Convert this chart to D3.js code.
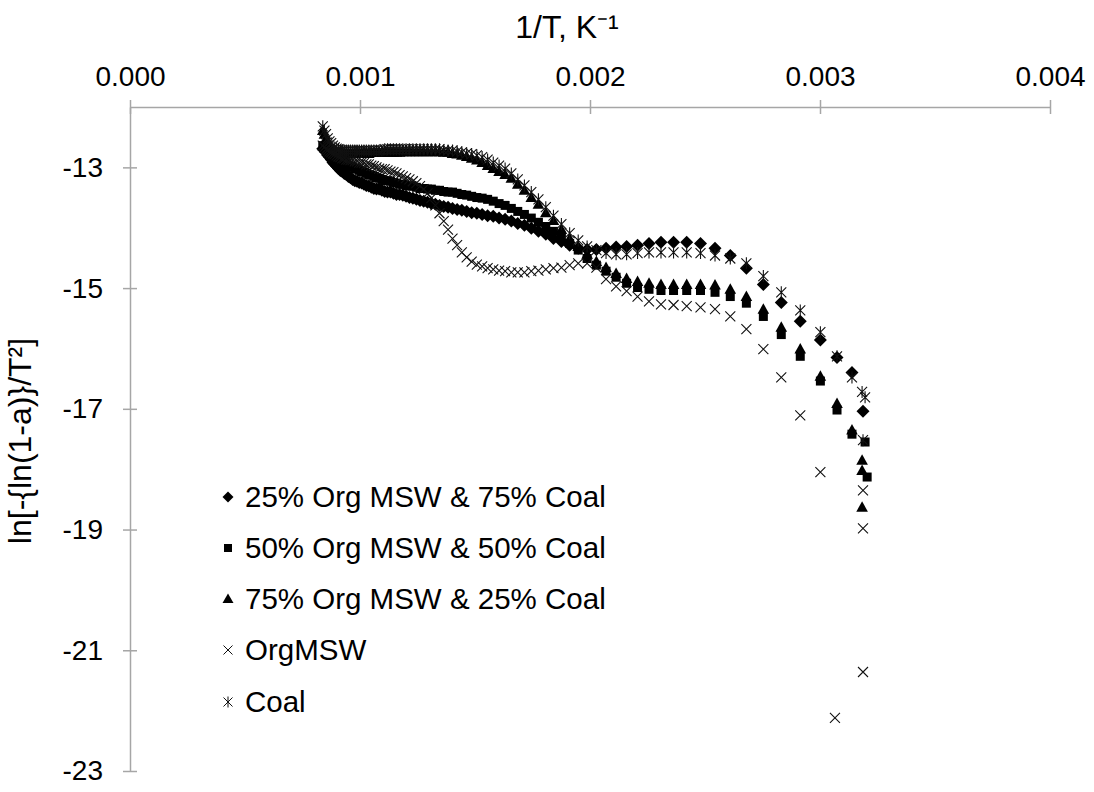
<!DOCTYPE html>
<html>
<head>
<meta charset="utf-8">
<script src="https://cdn.jsdelivr.net/npm/d3@7"></script>
<style>
  html, body { margin: 0; padding: 0; background: #fff; }
  svg { display: block; }
  text { font-family: "Liberation Sans", Arial, sans-serif; fill: #000; }
</style>
</head>
<body>
<svg id="chart" width="1094" height="792"></svg>
<script>
// ---------------- DATA ----------------
// Temperatures (°C) of the main sampling grid; x value = 1/T (K^-1)
const tempsC = [920,910,900,890,880,870,860,850,840,830,820,810,800,790,780,770,760,750,740,730,
  720,710,700,690,680,670,660,650,640,630,620,610,600,590,580,570,560,550,540,530,
  520,510,500,490,480,470,460,450,440,430,420,410,400,390,380,370,360,350,340,330,
  320,310,300,290,280,270,260,250,240,230,220,210,200,190,180,170,160,150,140,130,
  120,110,100,90,80,70,60];

const seriesNames = ["25% Org MSW & 75% Coal", "50% Org MSW & 50% Coal", "75% Org MSW & 25% Coal", "OrgMSW", "Coal"];

const blend25 = [-12.69,-12.72,-12.75,-12.80,-12.83,-12.87,-12.92,-12.95,-12.98,-13.02,
  -13.05,-13.07,-13.10,-13.12,-13.15,-13.17,-13.20,-13.22,-13.23,-13.25,
  -13.26,-13.28,-13.30,-13.31,-13.33,-13.35,-13.36,-13.36,-13.38,-13.40,
  -13.41,-13.41,-13.43,-13.45,-13.45,-13.46,-13.48,-13.50,-13.51,-13.53,
  -13.55,-13.56,-13.58,-13.60,-13.61,-13.63,-13.65,-13.66,-13.68,-13.70,
  -13.71,-13.73,-13.75,-13.76,-13.78,-13.80,-13.81,-13.84,-13.86,-13.89,
  -13.93,-13.96,-14.01,-14.06,-14.11,-14.18,-14.23,-14.29,-14.34,-14.36,
  -14.36,-14.34,-14.32,-14.31,-14.29,-14.26,-14.24,-14.24,-14.24,-14.26,
  -14.34,-14.46,-14.67,-14.94,-15.24,-15.55,-15.86];
const blend25Tail = [[0.003074,-16.15],[0.003139,-16.40],[0.003187,-17.04]];

const blend50 = [-12.64,-12.65,-12.67,-12.69,-12.72,-12.74,-12.77,-12.78,-12.82,-12.83,
  -12.87,-12.88,-12.92,-12.93,-12.97,-12.98,-13.00,-13.02,-13.03,-13.05,
  -13.07,-13.08,-13.10,-13.12,-13.13,-13.15,-13.17,-13.18,-13.20,-13.22,
  -13.22,-13.23,-13.25,-13.26,-13.28,-13.28,-13.30,-13.31,-13.31,-13.33,
  -13.35,-13.35,-13.36,-13.36,-13.38,-13.38,-13.40,-13.41,-13.41,-13.43,
  -13.45,-13.46,-13.48,-13.50,-13.51,-13.53,-13.56,-13.60,-13.63,-13.68,
  -13.73,-13.78,-13.84,-13.91,-13.98,-14.06,-14.14,-14.26,-14.37,-14.51,
  -14.62,-14.72,-14.82,-14.92,-14.99,-15.02,-15.04,-15.04,-15.04,-15.04,
  -15.07,-15.14,-15.25,-15.47,-15.77,-16.13,-16.54];
const blend50Tail = [[0.003074,-17.02],[0.003139,-17.42],[0.003196,-17.55],[0.003205,-18.13]];

const blend75 = [-12.39,-12.45,-12.52,-12.59,-12.64,-12.67,-12.70,-12.72,-12.74,-12.75,
  -12.75,-12.75,-12.77,-12.77,-12.77,-12.77,-12.77,-12.77,-12.77,-12.77,
  -12.77,-12.77,-12.77,-12.77,-12.75,-12.75,-12.75,-12.75,-12.75,-12.75,
  -12.75,-12.75,-12.75,-12.75,-12.75,-12.74,-12.74,-12.74,-12.74,-12.74,
  -12.74,-12.74,-12.74,-12.74,-12.74,-12.74,-12.75,-12.75,-12.77,-12.78,
  -12.80,-12.82,-12.85,-12.88,-12.92,-12.97,-13.02,-13.07,-13.12,-13.18,
  -13.28,-13.38,-13.50,-13.61,-13.75,-13.88,-14.03,-14.18,-14.31,-14.44,
  -14.56,-14.66,-14.76,-14.84,-14.89,-14.92,-14.94,-14.94,-14.94,-14.94,
  -14.95,-15.02,-15.14,-15.35,-15.65,-16.01,-16.46];
const blend75Tail = [[0.003074,-16.91],[0.003139,-17.35],[0.003183,-17.85],[0.003183,-18.02],[0.003183,-18.63]];

const orgMSW = [-12.64,-12.67,-12.70,-12.72,-12.74,-12.75,-12.77,-12.78,-12.80,-12.82,
  -12.83,-12.85,-12.85,-12.87,-12.87,-12.88,-12.88,-12.90,-12.90,-12.92,
  -12.92,-12.93,-12.95,-12.95,-12.97,-12.98,-13.00,-13.02,-13.03,-13.03,
  -13.05,-13.07,-13.08,-13.10,-13.13,-13.15,-13.18,-13.20,-13.23,-13.26,
  -13.31,-13.36,-13.43,-13.51,-13.63,-13.76,-13.89,-14.03,-14.18,-14.29,
  -14.41,-14.49,-14.56,-14.61,-14.64,-14.67,-14.69,-14.71,-14.72,-14.74,
  -14.74,-14.74,-14.72,-14.71,-14.69,-14.67,-14.66,-14.62,-14.59,-14.59,
  -14.66,-14.85,-14.97,-15.05,-15.14,-15.22,-15.27,-15.28,-15.30,-15.32,
  -15.35,-15.47,-15.68,-16.01,-16.48,-17.11,-18.05];
const orgMSWTail = [[0.003187,-18.35],[0.003187,-18.98],[0.003187,-21.36],[0.003065,-22.12]];

const coal = [-12.32,-12.39,-12.45,-12.52,-12.57,-12.60,-12.64,-12.67,-12.69,-12.70,
  -12.72,-12.72,-12.72,-12.72,-12.72,-12.72,-12.72,-12.72,-12.72,-12.72,
  -12.72,-12.72,-12.72,-12.72,-12.72,-12.72,-12.72,-12.72,-12.72,-12.70,
  -12.70,-12.70,-12.70,-12.70,-12.70,-12.70,-12.70,-12.70,-12.70,-12.70,
  -12.70,-12.70,-12.70,-12.70,-12.70,-12.70,-12.72,-12.72,-12.72,-12.74,
  -12.75,-12.77,-12.78,-12.80,-12.83,-12.87,-12.92,-12.97,-13.02,-13.10,
  -13.20,-13.30,-13.41,-13.53,-13.66,-13.80,-13.94,-14.09,-14.21,-14.31,
  -14.37,-14.42,-14.44,-14.44,-14.42,-14.41,-14.41,-14.41,-14.41,-14.42,
  -14.46,-14.51,-14.59,-14.80,-15.07,-15.37,-15.73];
const coalTail = [[0.003074,-16.13],[0.003139,-16.48],[0.003183,-16.72],[0.003196,-16.81],[0.003187,-17.52]];

const xTicks = [0.000, 0.001, 0.002, 0.003, 0.004];
const yTicks = [-13, -15, -17, -19, -21, -23];

// ---------------- LAYOUT ----------------
const svg = d3.select("#chart");
const plotLeft = 130, plotRight = 1050, plotTop = 107, plotBottom = 771;

const x = d3.scaleLinear().domain([0, 0.004]).range([plotLeft, plotRight]);
const y = d3.scaleLinear().domain([-12, -23]).range([plotTop, plotBottom]);

const axisColor = "#a6a6a6";

// X axis (at top, crossing at y = -12)
const xAxis = d3.axisTop(x).tickValues(xTicks).tickFormat(d3.format(".3f")).tickSizeOuter(0).tickSizeInner(7).tickPadding(14);
const gx = svg.append("g").attr("transform", `translate(0,${y(-12)})`).call(xAxis);
gx.select(".domain").attr("stroke", axisColor).attr("stroke-width", 1.5);
gx.selectAll(".tick line").attr("stroke", axisColor).attr("stroke-width", 1.5).attr("y2", -7).attr("y1", 7);
gx.selectAll(".tick text").style("font-size", "28px").attr("fill", "#000");

// Y axis
const yAxis = d3.axisLeft(y).tickValues(yTicks).tickFormat(d => String(d)).tickSizeOuter(0).tickSizeInner(7).tickPadding(20);
const gy = svg.append("g").attr("transform", `translate(${x(0)},0)`).call(yAxis);
gy.select(".domain").attr("stroke", axisColor).attr("stroke-width", 1.5);
gy.selectAll(".tick line").attr("stroke", axisColor).attr("stroke-width", 1.5).attr("x2", -7).attr("x1", 7);
gy.selectAll(".tick text").style("font-size", "28px").attr("fill", "#000");

// Axis titles
svg.append("text").attr("x", 567).attr("y", 38).attr("text-anchor", "middle")
  .style("font-size", "32px").text("1/T, K\u207B\u00B9");
svg.append("text").attr("transform", `translate(31,441) rotate(-90)`)
  .attr("text-anchor", "middle").style("font-size", "32px").text("ln[-{ln(1-a)}/T\u00B2]");

// ---------------- MARKERS ----------------
const markers = {
  diamond: { d: "M0,-6.5L6.5,0L0,6.5L-6.5,0Z", fill: "#000", stroke: "none" },
  square: { d: "M-4.5,-4.5h9v9h-9Z", fill: "#000", stroke: "none" },
  triangle: { d: "M0,-6L5.8,4.5L-5.8,4.5Z", fill: "#000", stroke: "none" },
  cross: { d: "M-5,-5L5,5M-5,5L5,-5", fill: "none", stroke: "#111" },
  asterisk: { d: "M-5,-5L5,5M-5,5L5,-5M0,-6L0,6", fill: "none", stroke: "#111" }
};
const legendMarkers = {
  diamond: "M0,-5.5L5.5,0L0,5.5L-5.5,0Z",
  square: "M-4,-4h8v8h-8Z",
  triangle: "M0,-5.5L5.5,4L-5.5,4Z",
  cross: "M-4.5,-4.5L4.5,4.5M-4.5,4.5L4.5,-4.5",
  asterisk: "M-4.5,-4.5L4.5,4.5M-4.5,4.5L4.5,-4.5M0,-5.5L0,5.5"
};

const series = [
  { name: seriesNames[0], vals: blend25, tail: blend25Tail, marker: "diamond" },
  { name: seriesNames[1], vals: blend50, tail: blend50Tail, marker: "square" },
  { name: seriesNames[2], vals: blend75, tail: blend75Tail, marker: "triangle" },
  { name: seriesNames[3], vals: orgMSW, tail: orgMSWTail, marker: "cross" },
  { name: seriesNames[4], vals: coal, tail: coalTail, marker: "asterisk" }
];

const plot = svg.append("g");
series.forEach(s => {
  const pts = tempsC.map((t, i) => [1 / (t + 273.15), s.vals[i]]).concat(s.tail);
  const m = markers[s.marker];
  plot.append("g").selectAll("path").data(pts).join("path")
    .attr("transform", d => `translate(${x(d[0])},${y(d[1])})`)
    .attr("d", m.d)
    .attr("fill", m.fill)
    .attr("stroke", m.stroke)
    .attr("stroke-width", 1.1);
});

// ---------------- LEGEND ----------------
const legendY = [497, 548, 599, 650, 702];
const lg = svg.append("g");
series.forEach((s, i) => {
  const m = markers[s.marker];
  lg.append("path").attr("transform", `translate(228,${legendY[i]})`)
    .attr("d", legendMarkers[s.marker])
    .attr("fill", m.fill).attr("stroke", m.stroke).attr("stroke-width", 1);
  lg.append("text").attr("x", 245).attr("y", legendY[i]).attr("dy", "0.35em")
    .style("font-size", "29.5px").text(s.name);
});
</script>
</body>
</html>
